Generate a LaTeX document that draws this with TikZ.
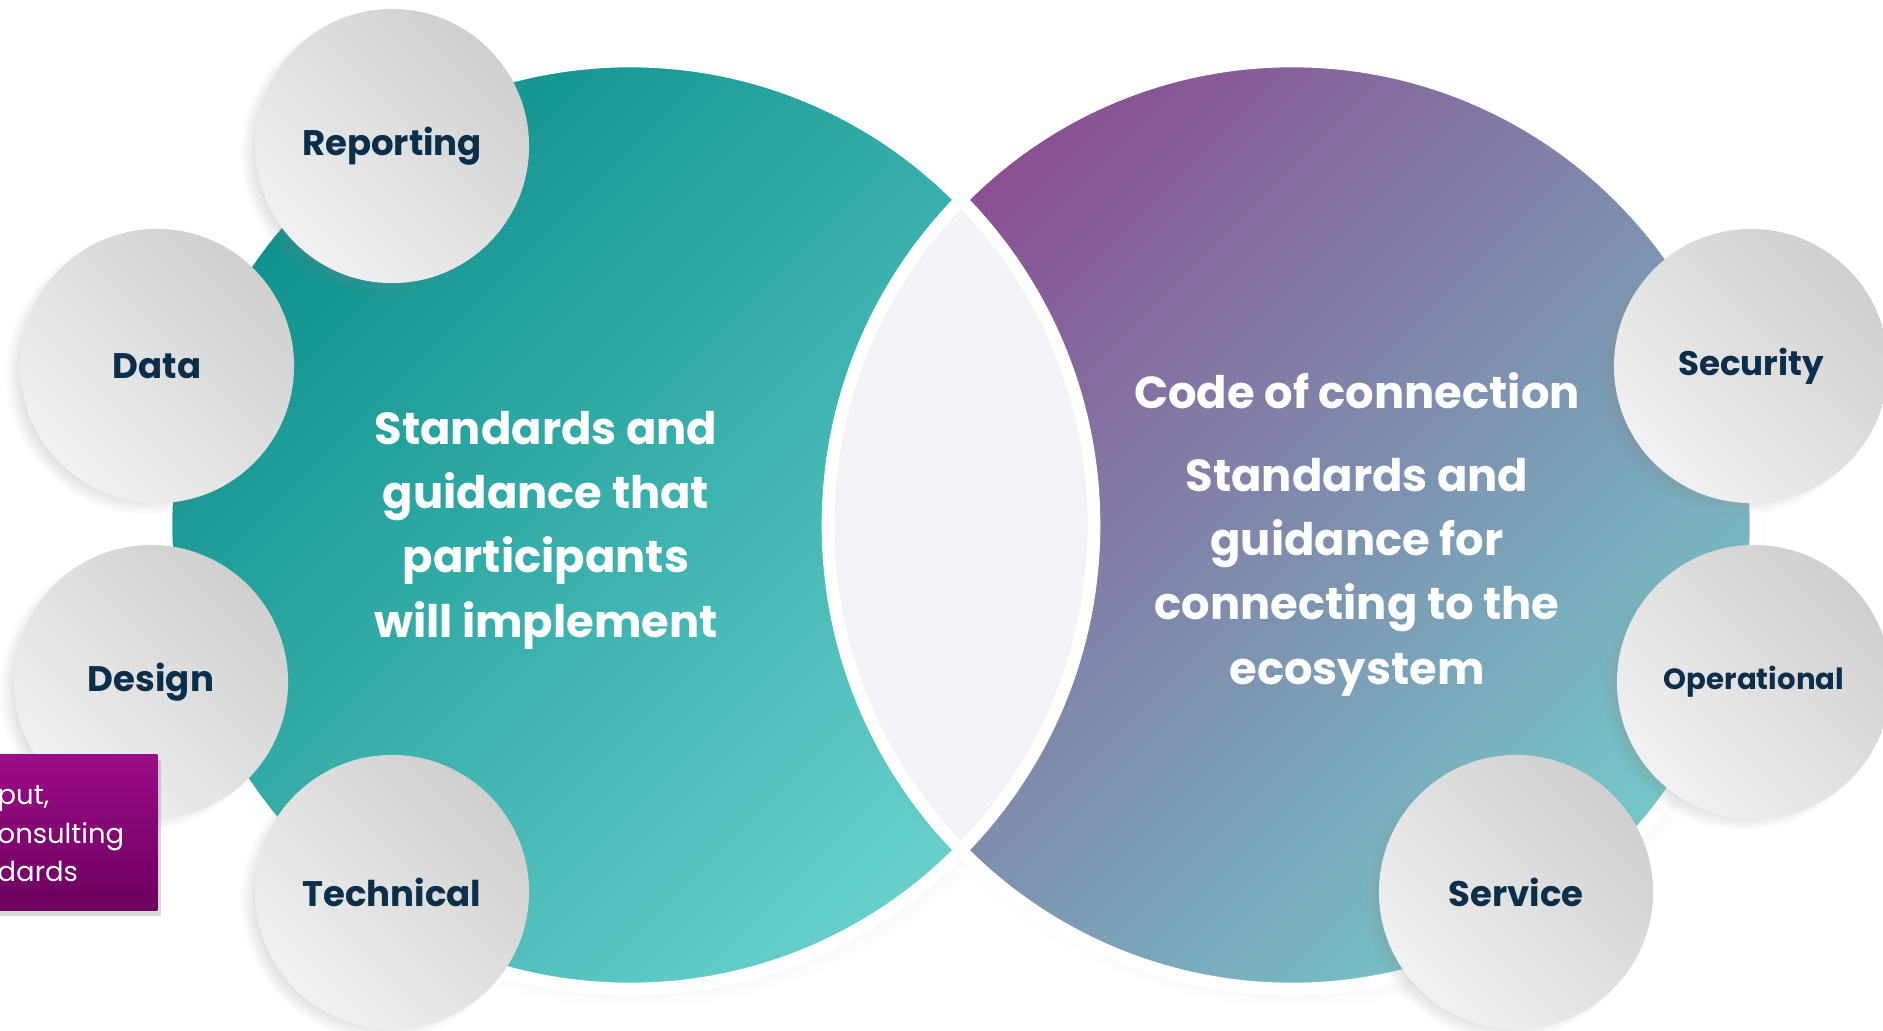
\documentclass[tikz,border=0pt]{standalone}
\usepackage{fontspec}
\setmainfont{Poppins}
\usetikzlibrary{shadows,positioning}
\definecolor{tealD}{HTML}{0E918E}
\definecolor{tealL}{HTML}{68D0CC}
\definecolor{purp}{HTML}{8A4F92}
\definecolor{tealR}{HTML}{74C8C9}
\definecolor{lensgrey}{HTML}{F2F3F7}
\definecolor{navy}{HTML}{0B2E4A}
\definecolor{greyD}{HTML}{CFCFCF}
\definecolor{greyL}{HTML}{F1F1F1}
\definecolor{magT}{HTML}{9C0C88}
\definecolor{magB}{HTML}{6C005E}

\begin{document}
\begin{tikzpicture}[
    x=0.01cm, y=-0.01cm,
    bubble/.style={circle, minimum size=2.74cm, inner sep=0pt,
        top color=greyD, bottom color=greyL, shading angle=-45,
        circular drop shadow={shadow xshift=-3pt, shadow yshift=-2pt, opacity=.3, shadow scale=1.03},
        text=navy, font=\bfseries\fontsize{10.1}{12}\selectfont},
    bigtext/.style={text=white, align=center, font=\bfseries\fontsize{12.75}{18.3}\selectfont},
    callout/.style={rectangle, inner sep=0pt, top color=magT, bottom color=magB,
        drop shadow={opacity=.3, shadow xshift=1pt, shadow yshift=-1.5pt}}
]
\useasboundingbox (0,0) rectangle (1883,1030);

% the two big circles
\path[top color=tealD, bottom color=tealL, shading angle=45,
      circular drop shadow={shadow yshift=-3pt, opacity=.2, shadow scale=1.02}]
      (630,525) circle (464);
\path[top color=purp, bottom color=tealR, shading angle=45,
      circular drop shadow={shadow yshift=-3pt, opacity=.2, shadow scale=1.02}]
      (1292,525) circle (464);
\begin{scope}
  \clip (630,525) circle (464);
  \fill[lensgrey] (1292,525) circle (464);
\end{scope}
\draw[white, line width=3.6pt] (630,525) circle (464) (1292,525) circle (464);

\node[bigtext] (local) at (546,530) {Standards and\\guidance that\\participants\\will implement};
\node[bigtext] (code) at (1357,391) {Code of connection};
\node[bigtext] (connect) at (1357,577) {Standards and\\guidance for\\connecting to the\\ecosystem};

% grey bubbles
\node[bubble] (report) at (392,146) {Reporting};
\node[bubble] (data) at (157,366) {Data};
\node[bubble] (design) at (151,682) {Design};
\node[bubble] (tech) at (392,892) {Technical};
\node[bubble, font=\bfseries\fontsize{9.7}{12}\selectfont] (secure) at (1751,366) {Security};
\node[bubble, font=\bfseries\fontsize{8.3}{10}\selectfont] (ops) at (1754,682) {Operational};
\node[bubble] (service) at (1516,892) {Service};

% purple note, cut at the left edge
\node[callout, minimum width=1.8cm, minimum height=1.56cm, anchor=north east] (note) at (158,754) {};
\node[anchor=west, text=white, align=left, inner sep=0pt,
      font=\fontsize{7.8}{10.9}\selectfont] (notetext) at (-3,834) {put,\\onsulting\\dards};
\end{tikzpicture}
\end{document}
